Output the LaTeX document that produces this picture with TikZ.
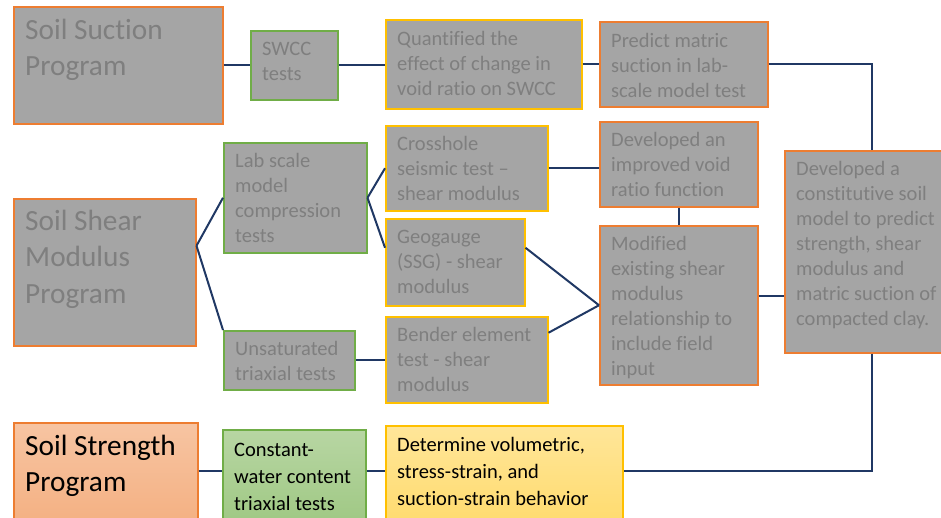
\documentclass[tikz,border=0pt]{standalone}
\usepackage{fontspec}
\setmainfont{Carlito}[Ligatures={TeX,NoCommon}]
\usepackage{xcolor}
\usepackage{tikz}
\usetikzlibrary{positioning,calc}
\definecolor{shade}{HTML}{A5A5A5}
\definecolor{dim}{HTML}{7F7F7F}
\definecolor{orng}{HTML}{ED7D31}
\definecolor{grn}{HTML}{70AD47}
\definecolor{yel}{HTML}{FFC000}
\definecolor{navy}{HTML}{203864}
\newcommand{\boxtext}[1]{\parbox[t]{220pt}{\raggedright #1}}
\tikzset{
  blk/.style={draw, rectangle, anchor=north west, line width=1.5pt, inner sep=0pt},
  prog/.style={blk, draw=orng, fill=shade},
  test/.style={blk, draw=grn, fill=shade},
  meth/.style={blk, draw=yel, fill=shade},
  txt/.style={anchor=base west, inner sep=0pt, text=dim, font=\fontsize{20.5}{25}\selectfont},
  big/.style={txt, font=\fontsize{29.3}{36.5}\selectfont},
  dark/.style={txt, text=black, font=\fontsize{20.5}{27}\selectfont},
  link/.style={draw=navy, line width=2pt}
}

\begin{document}
\begin{tikzpicture}[x=1pt,y=-1pt]
\useasboundingbox (0,0) rectangle (941,517);
% boxes
\node[prog, minimum width=209pt, minimum height=117pt] (suction) at (13,6) {};
\node[test, minimum width=87pt, minimum height=69pt] (swcc) at (250,30) {};
\node[meth, minimum width=196pt, minimum height=89pt] (quant) at (385,19) {};
\node[prog, minimum width=168pt, minimum height=85pt] (predict) at (599,21) {};
\node[test, minimum width=143pt, minimum height=110pt] (lab) at (223,142) {};
\node[meth, minimum width=162pt, minimum height=85pt] (cross) at (385,125) {};
\node[prog, minimum width=158pt, minimum height=85pt] (void) at (599,121) {};
\node[meth, minimum width=139pt, minimum height=87pt] (geo) at (385,218) {};
\node[prog, minimum width=158pt, minimum height=159pt] (mod) at (599,225) {};
\node[prog, minimum width=174pt, minimum height=202pt] (const) at (784,150) {};
\node[prog, minimum width=182pt, minimum height=147pt] (shear) at (13,198) {};
\node[test, minimum width=131pt, minimum height=59pt] (unsat) at (223,330) {};
\node[meth, minimum width=162pt, minimum height=86pt] (bender) at (385,316) {};
\node[prog, fill=none, top color=orng!45, bottom color=orng!62, minimum width=184pt, minimum height=110pt] (strength) at (13,422) {};
\node[test, fill=none, top color=grn!50, bottom color=grn!68, minimum width=143pt, minimum height=100pt] (water) at (222,429) {};
\node[meth, fill=none, top color=yel!40, bottom color=yel!58, minimum width=237pt, minimum height=105pt] (det) at (385,425) {};
% texts
\node[big] (suction-t) at ([shift={(12,33)}]suction.north west) {\boxtext{Soil Suction\\Program}};
\node[txt] (swcc-t) at ([shift={(12,25)}]swcc.north west) {\boxtext{SWCC\\tests}};
\node[txt] (quant-t) at ([shift={(12,26)}]quant.north west) {\boxtext{Quantified the\\effect of change in\\void ratio on SWCC}};
\node[txt] (predict-t) at ([shift={(12,26)}]predict.north west) {\boxtext{Predict matric\\suction in lab-\\scale model test}};
\node[txt] (lab-t) at ([shift={(12,25)}]lab.north west) {\boxtext{Lab scale\\model\\compression\\tests}};
\node[txt] (cross-t) at ([shift={(12,25)}]cross.north west) {\boxtext{Crosshole\\seismic test –\\shear modulus}};
\node[txt] (void-t) at ([shift={(12,25)}]void.north west) {\boxtext{Developed an\\improved void\\ratio function}};
\node[txt] (geo-t) at ([shift={(12,25)}]geo.north west) {\boxtext{Geogauge\\(SSG) - shear\\modulus}};
\node[txt] (mod-t) at ([shift={(12,25)}]mod.north west) {\boxtext{Modified\\existing shear\\modulus\\relationship to\\include field\\input}};
\node[txt] (const-t) at ([shift={(12,25)}]const.north west) {\boxtext{Developed a\\constitutive soil\\model to predict\\strength, shear\\modulus and\\matric suction of\\compacted clay.}};
\node[big] (shear-t) at ([shift={(12,32)}]shear.north west) {\boxtext{Soil Shear\\Modulus\\Program}};
\node[txt] (unsat-t) at ([shift={(12,25)}]unsat.north west) {\boxtext{Unsaturated\\triaxial tests}};
\node[txt] (bender-t) at ([shift={(12,25)}]bender.north west) {\boxtext{Bender element\\test - shear\\modulus}};
\node[big, text=black] (strength-t) at ([shift={(12,33)}]strength.north west) {\boxtext{Soil Strength\\Program}};
\node[dark] (water-t) at ([shift={(12,27)}]water.north west) {\boxtext{Constant-\\water content\\triaxial tests}};
\node[dark] (det-t) at ([shift={(12,26)}]det.north west) {\boxtext{Determine volumetric,\\stress-strain, and\\suction-strain behavior}};
% links
\coordinate (bl) at (0,471);
\foreach \s/\t in {suction/swcc,swcc/quant,quant/predict,cross/void,unsat/bender}
  \draw[link] (\s.east) -- (\s.east -| \t.west);
\draw[link] (void.south) -- (mod.north);
\draw[link] ([yshift=26.5pt]shear.east) -- (lab.west);
\draw[link] ([yshift=26.5pt]shear.east) -- (unsat.north west);
\draw[link] (lab.east) -- (cross.west);
\draw[link] (lab.east) -- ([yshift=14.5pt]geo.west);
\draw[link] ([yshift=14.5pt]geo.east) -- (mod.west);
\draw[link] ([yshift=27pt]bender.east) -- (mod.west);
\draw[link] ([yshift=9.5pt]mod.east) coordinate (m) -- (m -| const.west);
\draw[link] (predict.east) -| (const.north);
\draw[link] (const.south) |- (det.east |- bl);
\draw[link] (strength.east |- bl) -- (water.west |- bl);
\draw[link] (water.east |- bl) -- (det.west |- bl);
\end{tikzpicture}
\end{document}
